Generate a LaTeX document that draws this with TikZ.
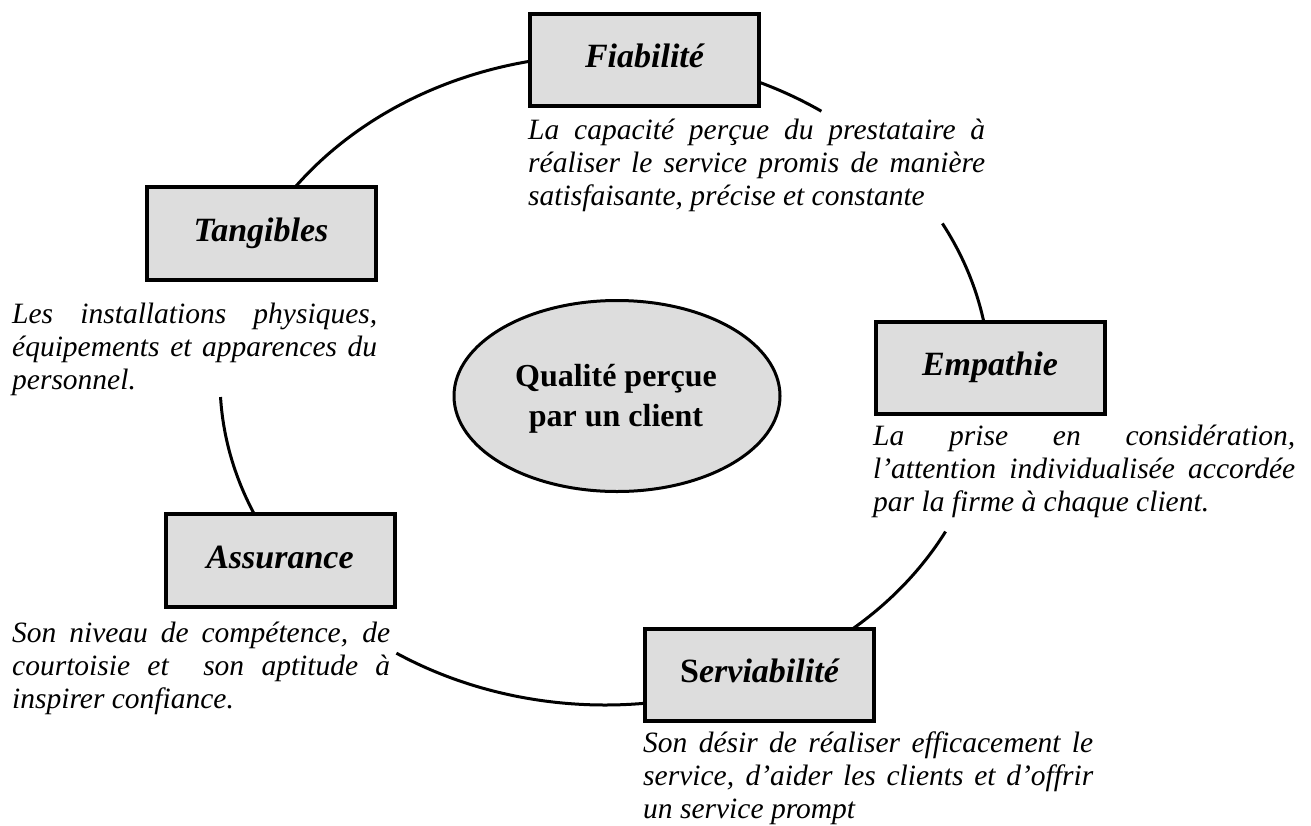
\documentclass[tikz,border=0pt]{standalone}
\usepackage{fontspec}
\setmainfont{Liberation Serif}
\usetikzlibrary{shapes.geometric}
\definecolor{boxgray}{RGB}{221,221,221}
\newcommand{\descfont}{\fontsize{29.5}{33}\selectfont\itshape\hyphenpenalty=10000\tolerance=10000}
\newcommand{\titlefont}{\fontsize{34}{38}\selectfont\bfseries\itshape}
\newcommand{\centerfont}{\fontsize{32}{40}\selectfont\bfseries}
\begin{document}
\begin{tikzpicture}[x=1pt,y=-1pt,
  dimbox/.style={draw=black, line width=4pt, fill=boxgray, minimum width=229pt, minimum height=92.5pt, inner sep=0pt, font=\titlefont, text height=23pt, text depth=8pt},
  desc/.style={inner sep=0pt, align=justify, font=\descfont, anchor=base west},
  arcline/.style={line width=3pt, black},
  hub/.style={ellipse, draw=black, line width=3pt, fill=boxgray, minimum width=326pt, minimum height=191pt, inner sep=0pt}
]
\useasboundingbox (0,0) rectangle (1311,825);
% cycle centre
\coordinate (O) at (605,380);
% arcs of the cycle
\draw[arcline] (O) ++(214:385 and 325) arc[start angle=214, end angle=262, x radius=385, y radius=325];
\draw[arcline] (O) ++(290:385 and 325) arc[start angle=290, end angle=304.2, x radius=385, y radius=325];
\draw[arcline] (O) ++(331.2:385 and 325) arc[start angle=331.2, end angle=352, x radius=385, y radius=325];
\draw[arcline] (O) ++(27.8:385 and 325) arc[start angle=27.8, end angle=52, x radius=385, y radius=325];
\draw[arcline] (O) ++(82:385 and 325) arc[start angle=82, end angle=122.8, x radius=385, y radius=325];
\draw[arcline] (O) ++(154:385 and 325) arc[start angle=154, end angle=177, x radius=385, y radius=325];
% centre
\node[hub] (q) at (617,396) {};
\node[font=\centerfont, align=center, inner sep=0pt] (qt) at (616,399) {Qualité perçue\\par un client};
% boxes
\node[dimbox] (fia) at (644.5,60) {Fiabilité};
\node[dimbox] (tan) at (261,233.5) {Tangibles};
\node[dimbox] (emp) at (990,368) {Empathie};
\node[dimbox] (ass) at (280,560.5) {Assurance};
\node[dimbox] (ser) at (759.5,675) {{\upshape S}erviabilité};
% descriptions
\node[desc, text width=457pt] (fiad) at (528,139) {La capacité perçue du prestataire à\linebreak réaliser le service promis de manière\linebreak satisfaisante, précise et constante};
\node[desc, text width=365pt] (tand) at (12,323) {Les installations physiques,\linebreak équipements et apparences du\linebreak personnel.};
\node[desc, text width=422pt] (empd) at (873,445) {La prise en considération,\linebreak l’attention individualisée accordée\linebreak par la firme à chaque client.};
\node[desc, text width=378pt] (assd) at (12,642) {Son niveau de compétence, de\linebreak courtoisie et \ son aptitude à\linebreak inspirer confiance.};
\node[desc, text width=450pt] (serd) at (643,752) {Son désir de réaliser efficacement le\linebreak service, d’aider les clients et d’offrir\linebreak un service prompt};
\end{tikzpicture}
\end{document}
